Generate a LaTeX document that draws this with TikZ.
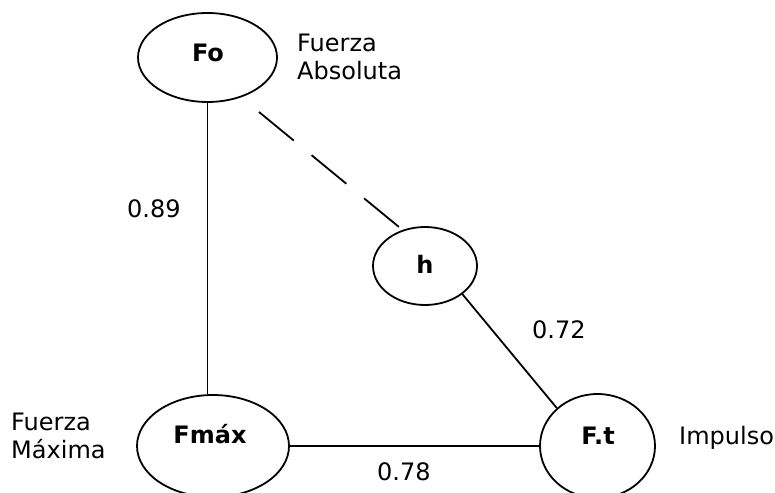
\documentclass[tikz,border=0pt]{standalone}
\usepackage{fontspec}
\setmainfont{DejaVu Sans}
\usetikzlibrary{shapes.geometric}

\tikzset{
  var/.style={draw, ellipse, line width=1.8pt, inner sep=0pt},
  conn/.style={line width=1.8pt},
  gapline/.style={conn, dash pattern=on 45pt off 23pt},
  txt/.style={inner sep=0pt, font=\fontsize{24}{28}\selectfont},
  vname/.style={inner sep=0pt, font=\fontsize{24}{28}\selectfont\bfseries},
}

\begin{document}
\begin{tikzpicture}[x=1pt, y=-1pt]
  \useasboundingbox (0,0) rectangle (775,492);

  % variables
  \node[var, minimum width=139pt, minimum height=89pt] (fo)   at (207.5,57.5) {};
  \node[var, minimum width=104pt, minimum height=78pt] (h)    at (425,266)   {};
  \node[var, minimum width=152pt, minimum height=102pt] (fmax) at (213,446)   {};
  \node[var, minimum width=115pt, minimum height=104pt] (ft)   at (597.5,446) {};

  \node[vname, anchor=base] (tfo)   at (208,62)  {Fo};
  \node[vname, anchor=base] (th)    at (425,273) {h};
  \node[vname, anchor=base] (tfmax) at (210,443) {Fmáx};
  \node[vname, anchor=base] (tft)   at (598,444) {F.t};

  % descriptions
  \node[txt, anchor=base west] (fa1) at (297,52)  {Fuerza};
  \node[txt, anchor=base west] (fa2) at (297,80)  {Absoluta};
  \node[txt, anchor=base west] (fm1) at (11,430)  {Fuerza};
  \node[txt, anchor=base west] (fm2) at (11,458)  {Máxima};
  \node[txt, anchor=base west] (imp) at (679,444) {Impulso};

  % correlations
  \draw[conn] (fo.south) -- (fo.south |- fmax.north);
  \draw[conn] (fmax.east) -- (ft.west);
  \draw[conn] (h.-37) -- (ft.137);
  \path (fo.center) ++(51.5,54.5) coordinate (d1);
  \path (h.center) ++(-26,-39) coordinate (d2);
  \draw[gapline] (d1) -- (d2);

  \node[txt, anchor=base west] (r1) at (127,217) {0.89};
  \node[txt, anchor=base west] (r2) at (532,338) {0.72};
  \node[txt, anchor=base west] (r3) at (377,480) {0.78};
\end{tikzpicture}
\end{document}
